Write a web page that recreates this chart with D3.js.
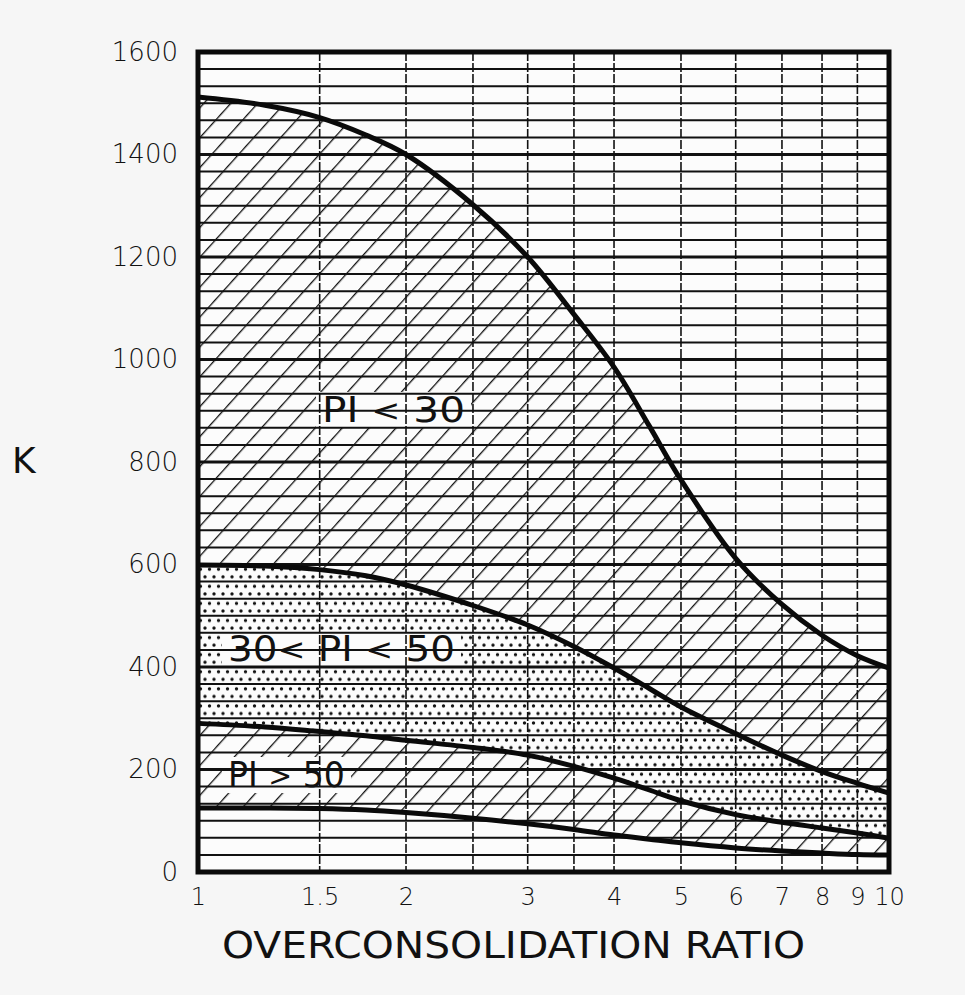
<!DOCTYPE html>
<html>
<head>
<meta charset="utf-8">
<script src="https://cdn.jsdelivr.net/npm/d3@7"></script>
<style>
  body { margin: 0; background: #f6f6f6; }
  text { font-family: "DejaVu Sans", sans-serif; fill: #111; }
</style>
</head>
<body>
<div id="chart"></div>
<script>
// overconsolidation ratio samples (log axis)
var ocr = [1, 1.25, 1.5, 1.75, 2, 2.5, 3, 3.5, 4, 4.5, 5, 6, 7, 8, 9, 10];
// K curves
var kTop    = [1512, 1496, 1472, 1438, 1400, 1302, 1200, 1088, 985, 870, 765, 612, 522, 462, 422, 398];
var kUpper  = [599, 597, 590, 578, 560, 520, 482, 440, 398, 358, 322, 270, 228, 196, 173, 154];
var kLower  = [290, 283, 274, 266, 257, 243, 228, 206, 183, 160, 139, 112, 97, 86, 76, 66];
var kBottom = [125, 125, 124, 121, 116, 105, 94, 83, 72, 64, 57, 47, 41, 37, 34, 33];

var yTicks = [0, 200, 400, 600, 800, 1000, 1200, 1400, 1600];
var xTicks = [1, 1.5, 2, 3, 4, 5, 6, 7, 8, 9, 10];
var xGrid = [1.5, 2, 2.5, 3, 3.5, 4, 5, 6, 7, 8, 9];

var width = 965, height = 995;
var pLeft = 198, pRight = 889, pTop = 52, pBottom = 872;

var svg = d3.select("#chart").append("svg")
    .attr("width", width)
    .attr("height", height);

var x = d3.scaleLog().domain([1, 10]).range([pLeft, pRight]);
var y = d3.scaleLinear().domain([0, 1600]).range([pBottom, pTop]);
var band = (pBottom - pTop) / 48;
var smooth = d3.curveCatmullRom.alpha(0.5);

// patterns
var defs = svg.append("defs");
var hatch = defs.append("pattern")
    .attr("id", "hatch")
    .attr("patternUnits", "userSpaceOnUse")
    .attr("width", 20).attr("height", 20)
    .attr("patternTransform", "rotate(42)");
hatch.append("line")
    .attr("x1", 0).attr("y1", 0).attr("x2", 0).attr("y2", 20)
    .attr("stroke", "#111").attr("stroke-width", 2.6);

var dots = defs.append("pattern")
    .attr("id", "dots")
    .attr("patternUnits", "userSpaceOnUse")
    .attr("x", pLeft).attr("y", pTop)
    .attr("width", 9).attr("height", band);
dots.append("circle").attr("cx", 2.5).attr("cy", band * 0.28).attr("r", 1.7).attr("fill", "#111");
dots.append("circle").attr("cx", 7).attr("cy", band * 0.72).attr("r", 1.7).attr("fill", "#111");

svg.append("rect")
    .attr("x", pLeft).attr("y", pTop)
    .attr("width", pRight - pLeft).attr("height", pBottom - pTop)
    .attr("fill", "#fcfcfc");

function area(hi, lo) {
    return d3.area()
        .x(function (d, i) { return x(ocr[i]); })
        .y0(function (d, i) { return y(lo[i]); })
        .y1(function (d, i) { return y(hi[i]); })
        .curve(smooth)(ocr);
}

svg.append("path").attr("d", area(kTop, kUpper)).attr("fill", "url(#hatch)");
svg.append("path").attr("d", area(kUpper, kLower)).attr("fill", "url(#dots)");
svg.append("path").attr("d", area(kLower, kBottom)).attr("fill", "url(#hatch)");

// region labels
var labels = [
    { parts: ["PI ", "<", " 30"], x: 322, y: 422, len: 143 },
    { parts: ["30", "<", " PI ", "<", " 50"], x: 228, y: 661, len: 227 },
    { parts: ["PI ", ">", " 50"], x: 228, y: 787, len: 117 }
];

// clear fill behind labels
labels.forEach(function (l) {
    svg.append("rect")
        .attr("x", l.x - 6).attr("y", l.y - 30)
        .attr("width", l.len + 12).attr("height", 36)
        .attr("fill", "#fcfcfc");
});

// grid
var hLines = d3.range(0, 49).map(function (i) { return i * 1600 / 48; });
svg.append("g").selectAll("line")
    .data(hLines)
    .enter().append("line")
    .attr("x1", pLeft).attr("x2", pRight)
    .attr("y1", function (d) { return y(d); })
    .attr("y2", function (d) { return y(d); })
    .attr("stroke", "#111")
    .attr("stroke-width", function (d, i) { return i % 6 == 0 ? 3.2 : 2; });

svg.append("g").selectAll("line")
    .data(xGrid)
    .enter().append("line")
    .attr("x1", function (d) { return x(d); })
    .attr("x2", function (d) { return x(d); })
    .attr("y1", pTop).attr("y2", pBottom)
    .attr("stroke", "#111")
    .attr("stroke-width", 1.6)
    .attr("stroke-dasharray", "9,2");

// curves
[kTop, kUpper, kLower, kBottom].forEach(function (k) {
    svg.append("path")
        .attr("d", d3.line()
            .x(function (d, i) { return x(ocr[i]); })
            .y(function (d) { return y(d); })
            .curve(smooth)(k))
        .attr("fill", "none")
        .attr("stroke", "#0a0a0a")
        .attr("stroke-width", 5);
});

// frame
svg.append("rect")
    .attr("x", pLeft).attr("y", pTop)
    .attr("width", pRight - pLeft).attr("height", pBottom - pTop)
    .attr("fill", "none")
    .attr("stroke", "#0a0a0a")
    .attr("stroke-width", 5);

// axes (labels only, original has no tick marks)
var yAxis = svg.append("g")
    .attr("transform", "translate(" + (pLeft - 20) + ",0)")
    .call(d3.axisLeft(y).tickValues(yTicks).tickFormat(d3.format("d")).tickSize(0).tickPadding(0));
yAxis.select(".domain").remove();
yAxis.selectAll("text")
    .attr("font-size", 26)
    .attr("font-family", "DejaVu Sans")
    .attr("font-weight", 300)
    .attr("fill", "#111");

var xAxis = svg.append("g")
    .attr("transform", "translate(0," + (pBottom + 16) + ")")
    .call(d3.axisBottom(x).tickValues(xTicks).tickFormat(d3.format("")).tickSize(0).tickPadding(0));
xAxis.select(".domain").remove();
xAxis.selectAll("text")
    .attr("font-size", 24)
    .attr("font-family", "DejaVu Sans")
    .attr("font-weight", 300)
    .attr("fill", "#111");

// titles
svg.append("text")
    .attr("x", 222).attr("y", 958)
    .attr("font-size", 38)
    .attr("textLength", 583)
    .attr("lengthAdjust", "spacingAndGlyphs")
    .text("OVERCONSOLIDATION RATIO");

svg.append("text")
    .attr("x", 12).attr("y", 473)
    .attr("font-size", 36)
    .text("K");

labels.forEach(function (l) {
    var t = svg.append("text")
        .attr("x", l.x).attr("y", l.y)
        .attr("font-size", 35)
        .attr("textLength", l.len)
        .attr("lengthAdjust", "spacingAndGlyphs");
    l.parts.forEach(function (p, j) {
        var s = t.append("tspan").text(p);
        if (p == "<" || p == ">") s.attr("font-size", 30).attr("dy", -1);
        else if (j > 0 && (l.parts[j - 1] == "<" || l.parts[j - 1] == ">")) s.attr("dy", 1);
    });
});
</script>
</body>
</html>
